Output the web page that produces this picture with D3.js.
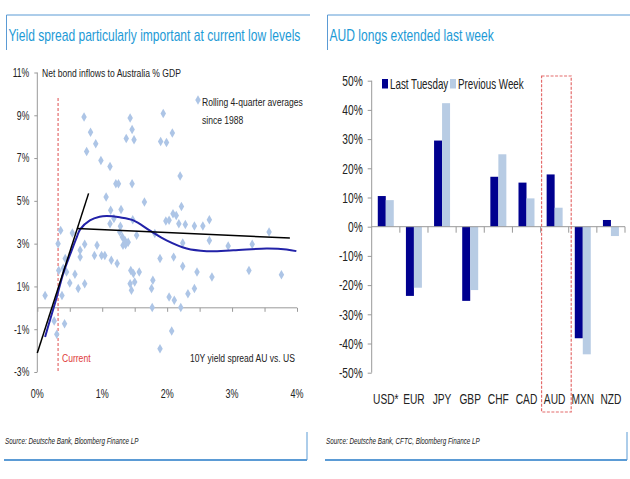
<!DOCTYPE html>
<html><head><meta charset="utf-8">
<script src="https://cdn.jsdelivr.net/npm/d3@7"></script>
<style>
html,body{margin:0;padding:0;background:#fff;}
svg{display:block;font-family:'Liberation Sans',Arial,sans-serif;}
</style></head><body>
<svg id="c" width="630" height="479"></svg>
<script>
// ---------- Left chart data ----------
const leftTitle = "Yield spread particularly important at current low levels";
const leftXTicks = [0, 1, 2, 3, 4];
const leftYTicks = [-3, -1, 1, 3, 5, 7, 9, 11];
const spreadX = [0.72,0.82,0.76,0.90,0.98,1.12,1.21,1.25,1.06,1.13,1.29,1.18,1.43,1.46,1.37,1.49,1.46,1.65,1.94,1.90,1.99,2.08,2.20,2.22,2.09,2.14,1.98,2.03,2.18,1.47,
  0.36,0.32,0.54,0.66,0.73,0.92,1.12,1.28,1.31,1.35,1.40,1.53,1.81,2.42,2.55,2.65,2.65,2.24,2.94,3.31,3.57,
  0.12,0.26,0.30,0.42,0.38,0.45,0.50,0.43,0.33,0.58,0.63,0.66,0.73,0.88,0.99,1.04,1.14,1.23,1.32,1.43,1.45,1.44,1.48,1.50,1.57,1.76,1.78,1.77,1.89,1.89,2.03,2.07,2.10,2.11,2.21,2.24,2.32,2.42,2.46,2.69,3.26,3.76,
  0.40,1.27,1.36,2.28];
const inflowY = [8.92,8.21,7.31,7.67,6.89,6.61,5.80,5.80,5.18,4.56,4.60,4.17,8.87,8.33,7.91,7.86,5.80,4.95,9.08,7.78,7.73,8.17,6.16,4.74,4.40,4.32,4.06,4.09,3.93,4.12,
  3.62,3.00,3.50,2.69,2.97,2.92,3.93,3.81,3.31,3.15,3.07,3.39,3.47,3.82,3.82,4.12,3.15,3.03,2.89,2.97,3.54,
  0.58,-0.62,-1.24,-0.74,0.58,1.67,1.16,2.30,1.75,1.57,0.90,2.37,1.13,2.45,2.45,2.45,2.22,2.07,2.92,1.13,0.82,1.75,1.60,1.21,1.67,0.90,1.29,0.01,2.30,-1.91,0.51,-1.08,2.37,0.35,0.01,1.94,0.66,0.90,1.67,1.44,1.75,1.55,
  1.85,3.55,2.95,3.90];
const curveX = [0.12,0.195,0.30,0.40,0.53,0.61,0.66,0.81,0.96,1.07,1.27,1.48,1.73,1.99,2.30,2.61,3.02,3.53,3.84,3.99];
const curveY = [-1.36,-0.58,0.51,1.61,2.69,3.32,3.67,4.09,4.26,4.29,4.23,4.09,3.62,3.15,2.77,2.65,2.69,2.77,2.73,2.65];
const steepLineX = [0.0, 0.79];
const steepLineY = [-2.11, 5.35];
const flatLineX = [0.61, 3.89];
const flatLineY = [3.71, 3.26];
const currentSpread = 0.32;

// ---------- Right chart data ----------
const rightTitle = "AUD longs extended last week";
const currencies = ["USD*","EUR","JPY","GBP","CHF","CAD","AUD","MXN","NZD"];
const seriesNames = ["Last Tuesday","Previous Week"];
const lastTuesday = [10.5,-23.7,29.5,-25.4,17.1,15.1,17.9,-38.2,2.3];
const previousWeek = [9.1,-20.9,42.3,-21.7,24.8,9.7,6.5,-43.7,-3.2];
const rightYTicks = [-50,-40,-30,-20,-10,0,10,20,30,40,50];
const highlighted = "AUD";

const titleColor = "#1d9ad6", frameColor = "#5b9bd5";
const svg = d3.select("#c");

// horizontally condense text (narrow typeface look)
function condense(sel, s) {
  sel.each(function () {
    const t = d3.select(this);
    const x = parseFloat(t.attr("x")) || 0;
    t.attr("transform", `translate(${x},0) scale(${s},1) translate(${-x},0)`);
  });
}

// ---------- Frames ----------
function frame(x0, x1, titleText) {
  const g = svg.append("g");
  g.append("line").attr("x1", x0).attr("x2", x1).attr("y1", 15).attr("y2", 15).attr("stroke", frameColor).attr("stroke-width", 1);
  g.append("line").attr("x1", x0).attr("x2", x0).attr("y1", 15).attr("y2", 50).attr("stroke", frameColor).attr("stroke-width", 1);
  g.append("text").attr("x", x0 + 2).attr("y", 41).attr("fill", titleColor).attr("font-size", 16).text(titleText)
    .call(condense, 0.755);
}
frame(6.5, 310, leftTitle);
frame(327.5, 630, rightTitle);
function bottom(x0, x1, src) {
  svg.append("line").attr("x1", x0).attr("x2", x1).attr("y1", 460).attr("y2", 460).attr("stroke", frameColor).attr("stroke-width", 2);
  svg.append("line").attr("x1", x1).attr("x2", x1).attr("y1", 432).attr("y2", 460).attr("stroke", frameColor).attr("stroke-width", 1);
  svg.append("text").attr("x", x0 + 1).attr("y", 444).attr("font-size", 9).attr("font-style", "italic").attr("fill", "#222").text(src)
    .call(condense, 0.7);
}
bottom(4, 307, "Source: Deutsche Bank, Bloomberg Finance LP");
bottom(325, 627, "Source: Deutsche Bank, CFTC, Bloomberg Finance LP");

// ---------- Left chart ----------
const lx = d3.scaleLinear().domain([0, 4]).range([37.3, 297]);
const ly = d3.scaleLinear().domain([-3, 11]).range([372, 72.5]);
const L = svg.append("g");
const axisGray = "#999";
// y axis
const yAx = L.append("g").attr("transform", `translate(${lx(0)},0)`)
  .call(d3.axisLeft(ly).tickValues(leftYTicks).tickSize(3).tickPadding(5).tickFormat(d => d + "%"));
yAx.select(".domain").attr("stroke", axisGray).attr("d", `M0,${ly(11)}V${ly(-3)}`);
yAx.selectAll(".tick line").attr("stroke", axisGray);
yAx.selectAll("text").attr("font-size", 12).attr("fill", "#222").call(condense, 0.72);
// x axis at y=0 with minor ticks
const xAx = L.append("g").attr("transform", `translate(0,${ly(0)})`)
  .call(d3.axisBottom(lx).tickValues(d3.range(0, 4.01, 0.5)).tickSize(4).tickFormat(""));
xAx.select(".domain").attr("stroke", axisGray).attr("d", `M${lx(0)},0H${lx(4)}`);
xAx.selectAll(".tick line").attr("stroke", axisGray);
L.selectAll(".xlab").data(leftXTicks).join("text").attr("class", "xlab")
  .attr("x", d => lx(d)).attr("y", 398).attr("text-anchor", "middle").attr("font-size", 12.5).attr("fill", "#222")
  .text(d => d + "%").call(condense, 0.72);
// current line
L.append("line").attr("x1", lx(currentSpread)).attr("x2", lx(currentSpread)).attr("y1", 98).attr("y2", ly(-3))
  .attr("stroke", "#e46c6c").attr("stroke-width", 1.2).attr("stroke-dasharray", "3,2");
// points
const pts = spreadX.map((x, i) => ({ x, y: inflowY[i] }));
const diamond = d3.symbol().type(d3.symbolDiamond).size(26);
L.selectAll(".pt").data(pts).join("path").attr("class", "pt")
  .attr("transform", d => `translate(${lx(d.x)},${ly(d.y)})`).attr("d", diamond).attr("fill", "#adc5e6");
// curve
const curve = curveX.map((x, i) => [x, curveY[i]]);
L.append("path").datum(curve).attr("fill", "none").attr("stroke", "#2222a8").attr("stroke-width", 2)
  .attr("d", d3.line().x(d => lx(d[0])).y(d => ly(d[1])).curve(d3.curveCatmullRom));
// black lines
[[steepLineX, steepLineY], [flatLineX, flatLineY]].forEach(([xs, ys]) => {
  L.append("line").attr("x1", lx(xs[0])).attr("y1", ly(ys[0])).attr("x2", lx(xs[1])).attr("y2", ly(ys[1]))
    .attr("stroke", "#000").attr("stroke-width", 1.5);
});
// labels
const ann = [];
ann.push(L.append("text").attr("x", 42).attr("y", 77).text("Net bond inflows to Australia % GDP"));
L.append("path").attr("transform", "translate(198,100)").attr("d", diamond).attr("fill", "#adc5e6");
ann.push(L.append("text").attr("x", 202).attr("y", 106).text("Rolling 4-quarter averages"));
ann.push(L.append("text").attr("x", 202).attr("y", 124).text("since 1988"));
ann.push(L.append("text").attr("x", 62).attr("y", 362).attr("fill", "#e03a3a").text("Current"));
ann.push(L.append("text").attr("x", 295).attr("y", 362).attr("text-anchor", "end").text("10Y yield spread AU vs. US"));
ann.forEach(t => { if (!t.attr("fill")) t.attr("fill", "#222"); t.attr("font-size", 11.5).call(condense, 0.745); });

// ---------- Right chart ----------
const rx = d3.scaleBand().domain(currencies).range([371.7, 625]).paddingInner(0.432).paddingOuter(0.216);
const rx1 = d3.scaleBand().domain(seriesNames).range([0, rx.bandwidth()]);
const ry = d3.scaleLinear().domain([-50, 50]).range([372.7, 80.7]);
const R = svg.append("g");
const colors = { "Last Tuesday": "#00008f", "Previous Week": "#b8cce4" };
const barData = currencies.flatMap((c, i) => [
  { c, s: "Last Tuesday", v: lastTuesday[i] },
  { c, s: "Previous Week", v: previousWeek[i] }]);
R.selectAll(".bar").data(barData).join("rect").attr("class", "bar")
  .attr("x", d => rx(d.c) + rx1(d.s)).attr("width", rx1.bandwidth())
  .attr("y", d => ry(Math.max(0, d.v))).attr("height", d => Math.abs(ry(d.v) - ry(0)))
  .attr("fill", d => colors[d.s]);
const ryAx = R.append("g").attr("transform", "translate(371.7,0)")
  .call(d3.axisLeft(ry).tickValues(rightYTicks).tickSize(4).tickPadding(5).tickFormat(d => d + "%"));
ryAx.select(".domain").attr("stroke", axisGray).attr("d", `M0,${ry(50)}V${ry(-50)}`);
ryAx.selectAll(".tick line").attr("stroke", axisGray);
ryAx.selectAll("text").attr("font-size", 15).attr("fill", "#222").call(condense, 0.68);
// zero line with boundary ticks
R.append("line").attr("x1", 371.7).attr("x2", 625).attr("y1", ry(0)).attr("y2", ry(0)).attr("stroke", axisGray);
const step = rx.step();
R.selectAll(".bt").data(currencies).join("line").attr("class", "bt")
  .attr("x1", d => rx(d) - rx.paddingOuter() * step + step).attr("x2", d => rx(d) - rx.paddingOuter() * step + step)
  .attr("y1", ry(0)).attr("y2", ry(0) + 6).attr("stroke", axisGray);
R.selectAll(".cl").data(currencies).join("text").attr("class", "cl")
  .attr("x", d => rx(d) + rx.bandwidth() / 2).attr("y", 404).attr("text-anchor", "middle")
  .attr("font-size", 15).attr("fill", "#222").text(d => d).call(condense, 0.68);
// highlight box
R.append("rect").attr("x", rx(highlighted) - rx.paddingOuter() * step + 1).attr("y", 76)
  .attr("width", step + 1.5).attr("height", 336).attr("fill", "none")
  .attr("stroke", "#e46c6c").attr("stroke-width", 1.2).attr("stroke-dasharray", "3,1.5");
// legend
const lg = [{ s: "Last Tuesday", x: 382 }, { s: "Previous Week", x: 450 }];
lg.forEach(d => {
  R.append("rect").attr("x", d.x).attr("y", 79).attr("width", 6).attr("height", 9.5).attr("fill", colors[d.s]);
  R.append("text").attr("x", d.x + 8).attr("y", 89).attr("font-size", 14).attr("fill", "#222").text(d.s).call(condense, 0.7);
});
</script>
</body></html>
